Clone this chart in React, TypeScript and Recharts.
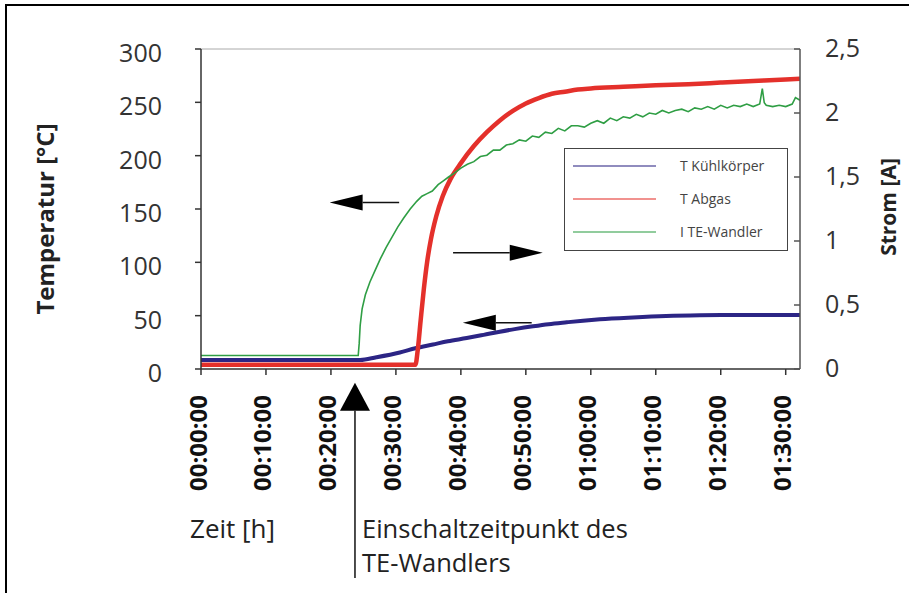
import React from 'react';
import { LineChart, Line, XAxis, YAxis, ReferenceLine, Legend } from 'recharts';

const FONT = "'Open Sans', 'DejaVu Sans', sans-serif";

// Zeit in Minuten seit Start
const xTicks = [0, 10, 20, 30, 40, 50, 60, 70, 80, 90];
const xTickLabels = ['00:00:00', '00:10:00', '00:20:00', '00:30:00', '00:40:00', '00:50:00', '01:00:00', '01:10:00', '01:20:00', '01:30:00'];
const tempTicks = [0, 50, 100, 150, 200, 250, 300];
const stromTicks = [0, 0.5, 1, 1.5, 2, 2.5];
const stromTickLabels = ['0', '0,5', '1', '1,5', '2', '2,5'];
const legendOrder = ['T Kühlkörper', 'T Abgas', 'I TE-Wandler'];

// T Kühlkörper [°C]
const kuehlTime = [0, 24.5, 27, 30.6, 33, 35.7, 38, 40.9, 43.5, 46, 48.5, 51.1, 53.5, 56.3, 58.8, 61.4, 66.5, 71.6, 76.8, 81.9, 87, 92.2];
const kuehlTemp = [8.4, 8.4, 11, 15.5, 19.5, 23, 26, 29, 32, 35, 37.6, 40, 42, 43.8, 45.3, 46.6, 48.3, 49.6, 50.3, 50.6, 50.7, 50.7];

// T Abgas [°C]
const abgasTime = [0, 33.0, 33.4, 33.8, 34.3, 34.8, 35.4, 36.2, 37.2, 38.4, 40, 42, 44, 46, 48, 50, 52, 54, 56, 58, 60, 65, 70, 75, 80, 85, 90, 92.2];
const abgasTemp = [4, 4, 20, 45, 75, 100, 122, 143, 162, 178, 193, 209, 222, 233, 242, 249, 254, 258, 260, 262, 263, 264.5, 266, 267, 268.5, 270, 271.5, 272];

// I TE-Wandler [A]
const stromTime = [0, 24.2, 24.35, 24.5, 24.8, 25.3, 26, 26.8, 27.6, 28.5, 29.4, 30.3, 31.2, 32.2, 33.2, 34, 34.8, 35.6, 36.5, 37.3, 38.1, 39,
  40, 41, 42, 43, 44, 45, 46, 47, 48, 49, 50, 51, 52, 53, 54, 55, 56, 57, 58, 59, 60, 61, 62, 63, 64, 65, 66, 67, 68, 69, 70,
  71, 72, 73, 74, 75, 76, 77, 78, 79, 80, 81, 82, 83, 84, 85, 86, 86.4, 86.7, 87, 88, 89, 90, 91, 91.5, 92.2];
const stromValue = [0.105, 0.105, 0.2, 0.34, 0.47, 0.58, 0.68, 0.77, 0.86, 0.95, 1.03, 1.11, 1.18, 1.25, 1.31, 1.35, 1.37, 1.39, 1.44, 1.47, 1.5, 1.53,
  1.57, 1.6, 1.62, 1.66, 1.67, 1.71, 1.71, 1.75, 1.76, 1.79, 1.78, 1.82, 1.81, 1.85, 1.84, 1.88, 1.86, 1.9, 1.9, 1.89, 1.92, 1.94, 1.92, 1.96, 1.94, 1.97, 1.96, 1.99, 1.97, 2.0, 1.99,
  2.02, 2.0, 2.02, 2.03, 2.01, 2.04, 2.03, 2.05, 2.03, 2.06, 2.04, 2.06, 2.05, 2.07, 2.05, 2.07, 2.19, 2.08, 2.06, 2.05, 2.06, 2.05, 2.07, 2.12, 2.1];

// Pfeile: [Zeit, Wert] von -> nach
const plotArrows = [
  { from: [30.5, 156], to: [19.8, 156] },
  { from: [38.8, 109], to: [52.6, 109] },
  { from: [50.9, 43.4], to: [40.3, 43.4] },
];
const switchArrow = { from: [23.7, -196], to: [23.7, -13] };

const kuehlData = kuehlTime.map((t, i) => ({ t, v: kuehlTemp[i] }));
const abgasData = abgasTime.map((t, i) => ({ t, v: abgasTemp[i] }));
const stromData = stromTime.map((t, i) => ({ t, v: stromValue[i] }));

const arrowShape = (head: number, half: number, sw: number) => (p: any) => {
  const { x1, y1, x2, y2 } = p;
  const dx = x2 - x1;
  const dy = y2 - y1;
  const len = Math.hypot(dx, dy) || 1;
  const ux = dx / len;
  const uy = dy / len;
  const bx = x2 - ux * head;
  const by = y2 - uy * head;
  const px = -uy * half;
  const py = ux * half;
  return (
    <g>
      <line x1={x1} y1={y1} x2={bx} y2={by} stroke="#111" strokeWidth={sw} />
      <polygon points={`${x2},${y2} ${bx + px},${by + py} ${bx - px},${by - py}`} fill="#000" />
    </g>
  );
};

const XTick = (props: any) => {
  const { x, y, payload } = props;
  const cx = x - 4;
  return (
    <text x={cx} y={y} transform={`rotate(-90 ${cx} ${y})`} textAnchor="end" dominantBaseline="central"
      fontFamily={FONT} fontWeight="bold" fontSize={24} fill="#111">
      {xTickLabels[xTicks.indexOf(payload.value)]}
    </text>
  );
};

const LeftTick = (props: any) => {
  const { x, y, payload } = props;
  return (
    <text x={x} y={y + 3} textAnchor="end" dominantBaseline="central" fontFamily={FONT} fontSize={25} fill="#333">
      {payload.value}
    </text>
  );
};

const RightTick = (props: any) => {
  const { x, y, payload } = props;
  return (
    <text x={x} y={y - 2} textAnchor="start" dominantBaseline="central" fontFamily={FONT} fontSize={25} fill="#333">
      {stromTickLabels[stromTicks.indexOf(payload.value)]}
    </text>
  );
};

const LegendBox = (props: any) => {
  const items = [...(props.payload || [])].sort((a: any, b: any) => legendOrder.indexOf(a.value) - legendOrder.indexOf(b.value));
  return (
    <div style={{ width: 224, height: 103, border: '1.5px solid #444', boxSizing: 'border-box', background: '#fff', position: 'relative' }}>
      {items.map((e: any, i: number) => (
        <div key={i} style={{ position: 'absolute', left: 0, top: 17 + i * 33 - 10, height: 20, width: '100%' }}>
          <svg width={100} height={20} style={{ position: 'absolute', left: 0, top: 0 }}>
            <line x1={8} y1={10} x2={91} y2={10} stroke={e.color} strokeOpacity={0.7} strokeWidth={1.5} />
          </svg>
          <span style={{ position: 'absolute', left: 115, top: 0, lineHeight: '20px', fontFamily: FONT, fontSize: 14, color: '#444', whiteSpace: 'nowrap' }}>
            {e.value}
          </span>
        </div>
      ))}
    </div>
  );
};

const axisStroke = { stroke: '#333', strokeWidth: 1.5 };

export default function App() {
  return (
    <div style={{ position: 'fixed', left: 0, top: 0, width: 909, height: 593, background: '#fff', overflow: 'hidden' }}>
      <div style={{ position: 'absolute', left: 5, top: 4, width: 920, height: 600, borderLeft: '2px solid #000', borderTop: '2px solid #000' }} />
      <div style={{ position: 'absolute', left: 0, top: 0 }}>
        <LineChart width={909} height={593} margin={{ top: 49, right: 0, bottom: 0, left: 0 }}>
          <XAxis type="number" dataKey="t" domain={[0, 92.2]} ticks={xTicks} interval={0} allowDataOverflow
            height={224} tickSize={6} tickMargin={20} tick={<XTick />} axisLine={axisStroke} tickLine={axisStroke} />
          <YAxis yAxisId="left" type="number" domain={[0, 300]} ticks={tempTicks} interval={0} width={201}
            tickSize={6} tickMargin={33} tick={<LeftTick />} axisLine={axisStroke} tickLine={axisStroke} />
          <YAxis yAxisId="right" orientation="right" type="number" domain={[0, 2.5]} ticks={stromTicks} interval={0} width={109}
            tickSize={-6} tickMargin={31} tick={<RightTick />} axisLine={{ stroke: '#555', strokeWidth: 1.5 }} tickLine={{ stroke: '#555', strokeWidth: 1.5 }} />
          <ReferenceLine yAxisId="left" y={300} stroke="#aaa" strokeWidth={1} />
          <Line yAxisId="left" data={kuehlData} dataKey="v" name="T Kühlkörper" type="monotone" stroke="#2c2585" strokeWidth={4} dot={false} isAnimationActive={false} />
          <Line yAxisId="left" data={abgasData} dataKey="v" name="T Abgas" type="monotone" stroke="#e4302b" strokeWidth={4.5} dot={false} isAnimationActive={false} />
          <Line yAxisId="right" data={stromData} dataKey="v" name="I TE-Wandler" type="linear" stroke="#2f9e44" strokeWidth={1.6} dot={false} isAnimationActive={false} />
          {plotArrows.map((a, i) => (
            <ReferenceLine key={i} yAxisId="left" ifOverflow="visible"
              segment={[{ x: a.from[0], y: a.from[1] }, { x: a.to[0], y: a.to[1] }]}
              shape={arrowShape(33, 8, 1.5)} />
          ))}
          <ReferenceLine yAxisId="left" ifOverflow="visible"
            segment={[{ x: switchArrow.from[0], y: switchArrow.from[1] }, { x: switchArrow.to[0], y: switchArrow.to[1] }]}
            shape={arrowShape(28, 15, 1.5)} />
          <Legend layout="horizontal" verticalAlign="middle" align="center" content={<LegendBox />}
            wrapperStyle={{ left: 564, top: 148, width: 224, height: 103 }} />
        </LineChart>
      </div>
      <svg width={909} height={593} style={{ position: 'absolute', left: 0, top: 0, pointerEvents: 'none' }}>
        <text x={54} y={219} transform="rotate(-90 54 219)" textAnchor="middle" fontFamily={FONT} fontWeight="bold" fontSize={24} fill="#222">
          Temperatur [°C]
        </text>
        <text x={896} y={207} transform="rotate(-90 896 207)" textAnchor="middle" fontFamily={FONT} fontWeight="bold" fontSize={21} fill="#222">
          Strom [A]
        </text>
        <text x={190} y={538} fontFamily={FONT} fontSize={26} fill="#222">Zeit [h]</text>
        <text x={362} y={538} fontFamily={FONT} fontSize={25.5} fill="#222">Einschaltzeitpunkt des</text>
        <text x={362} y={572} fontFamily={FONT} fontSize={25.5} fill="#222">TE-Wandlers</text>
      </svg>
    </div>
  );
}
